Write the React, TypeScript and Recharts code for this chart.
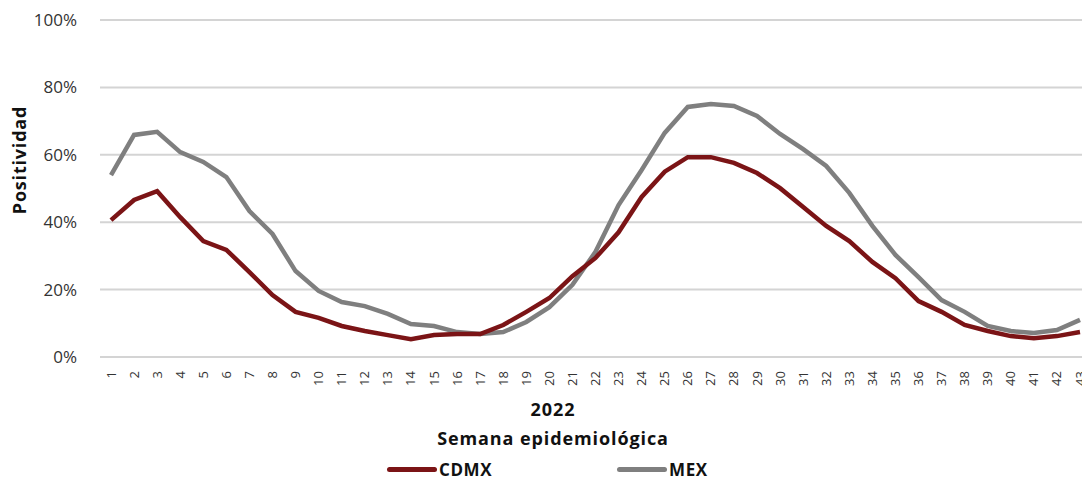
import { LineChart, Line, XAxis, YAxis, CartesianGrid } from "recharts";

// Semanas epidemiológicas 2022
const weeks = Array.from({ length: 43 }, (_, i) => String(i + 1));

// Positividad (%) por semana
const cdmx = [
  40.6, 46.6, 49.2, 41.5, 34.4, 31.8, 25.2, 18.4, 13.4, 11.6, 9.2, 7.7, 6.5,
  5.3, 6.5, 6.8, 6.8, 9.5, 13.4, 17.5, 24.0, 29.4, 37.0, 47.5, 55.0, 59.3,
  59.3, 57.6, 54.6, 50.1, 44.5, 38.9, 34.4, 28.2, 23.4, 16.6, 13.4, 9.5, 7.7,
  6.2, 5.6, 6.2, 7.4,
];
const mex = [
  54.0, 65.9, 66.8, 60.8, 57.9, 53.4, 43.3, 36.5, 25.5, 19.6, 16.3, 15.1,
  12.8, 9.8, 9.2, 7.4, 6.8, 7.4, 10.4, 14.8, 21.4, 31.2, 45.1, 55.5, 66.5,
  74.2, 75.1, 74.5, 71.5, 66.2, 61.7, 56.7, 48.7, 38.9, 30.3, 23.7, 16.9,
  13.4, 9.2, 7.7, 7.1, 8.0, 11.0,
];
const yTicks = [0, 20, 40, 60, 80, 100];

const data = weeks.map((w, i) => ({ week: w, CDMX: cdmx[i], MEX: mex[i] }));

const FONT = "'Open Sans', 'DejaVu Sans', sans-serif";
const RED = "#7B1416";
const GRAY = "#7F7F7F";

const WeekTick = (props: any) => {
  const { x, y, payload } = props;
  return (
    <text
      x={0}
      y={0}
      transform={`translate(${x},${y + 6}) rotate(-90)`}
      textAnchor="end"
      dy="0.35em"
      fontSize={13}
      fontFamily={FONT}
      fill="#333"
    >
      {payload.value}
    </text>
  );
};

export default function App() {
  return (
    <div
      style={{
        position: "fixed",
        left: 0,
        top: 0,
        width: 1082,
        height: 485,
        overflow: "hidden",
        background: "#fff",
        fontFamily: FONT,
      }}
    >
      <LineChart
        width={1091}
        height={485}
        data={data}
        margin={{ top: 20, right: 0, left: 0, bottom: 98 }}
      >
        <CartesianGrid vertical={false} stroke="#D4D4D4" strokeWidth={2} />
        <XAxis
          dataKey="week"
          interval={0}
          axisLine={false}
          tickLine={false}
          height={30}
          padding={{ left: 11, right: 11 }}
          tick={<WeekTick />}
        />
        <YAxis
          domain={[0, 100]}
          ticks={yTicks}
          width={100}
          axisLine={false}
          tickLine={false}
          tickFormatter={(v) => `${v}%`}
          tick={{ fill: "#333", fontSize: 17, fontFamily: FONT }}
          tickMargin={17}
        />
        <Line
          dataKey="MEX"
          stroke={GRAY}
          strokeWidth={4.5}
          dot={false}
          isAnimationActive={false}
        />
        <Line
          dataKey="CDMX"
          stroke={RED}
          strokeWidth={4.5}
          dot={false}
          isAnimationActive={false}
        />
      </LineChart>

      {/* título del eje Y */}
      <div
        style={{
          position: "absolute",
          left: 19,
          top: 160,
          transform: "translate(-50%, -50%) rotate(-90deg)",
          fontWeight: 700,
          fontSize: 18,
          letterSpacing: 0.8,
          color: "#111",
          whiteSpace: "nowrap",
        }}
      >
        Positividad
      </div>

      {/* título del eje X */}
      <div
        style={{
          position: "absolute",
          left: 553,
          top: 395,
          transform: "translateX(-50%)",
          fontWeight: 700,
          fontSize: 18,
          letterSpacing: 0.9,
          color: "#111",
          textAlign: "center",
          lineHeight: "29px",
          whiteSpace: "nowrap",
        }}
      >
        <div>2022</div>
        <div>Semana epidemiológica</div>
      </div>

      {/* leyenda */}
      {[
        { name: "CDMX", color: RED, left: 387 },
        { name: "MEX", color: GRAY, left: 617 },
      ].map((item) => (
        <div
          key={item.name}
          style={{
            position: "absolute",
            left: item.left,
            top: 458,
            display: "flex",
            alignItems: "center",
            fontWeight: 700,
            fontSize: 17,
            letterSpacing: 0.6,
            color: "#111",
          }}
        >
          <span
            style={{
              display: "inline-block",
              width: 50,
              height: 5,
              borderRadius: 3,
              background: item.color,
              marginRight: 2,
            }}
          />
          {item.name}
        </div>
      ))}
    </div>
  );
}
